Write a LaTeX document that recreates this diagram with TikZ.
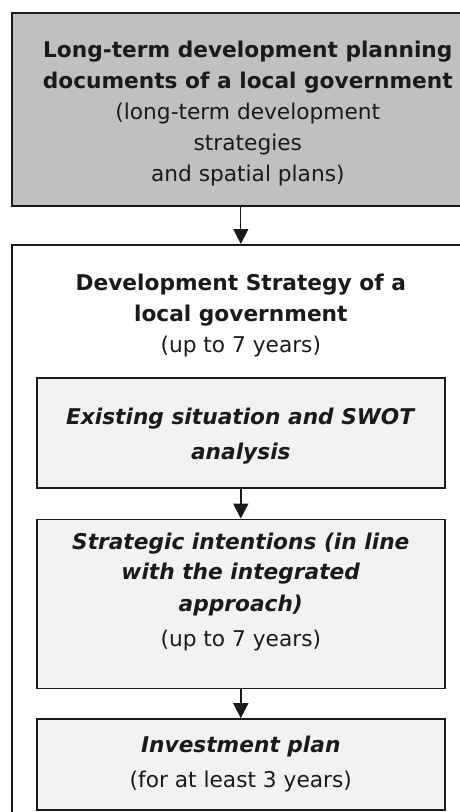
\documentclass[tikz,border=0pt]{standalone}
\usepackage{fontspec}
\setmainfont{DejaVu Sans}
\usetikzlibrary{arrows.meta,positioning}
\definecolor{docgray}{HTML}{C0C0C0}
\definecolor{boxgray}{HTML}{F2F2F2}
\definecolor{ink}{HTML}{1A1A1A}

\begin{document}
\begin{tikzpicture}[
  x=1pt, y=1pt,
  font=\fontsize{21.7}{31}\selectfont, text=ink, >={Triangle[width=15pt,length=15pt]},
  docbox/.style={draw=ink,line width=1.6pt,fill=docgray,align=center,anchor=north west,
                 minimum width=472pt,minimum height=193pt,inner sep=0pt},
  dsbox/.style={draw=ink,line width=1.6pt,fill=white,anchor=north west,
                minimum width=458pt,minimum height=620pt,inner sep=0pt},
  stage/.style={draw=ink,line width=1.6pt,fill=boxgray,align=center,
                minimum width=408pt,inner sep=0pt},
  flow/.style={->,draw=ink,line width=1.6pt}
]
\useasboundingbox (0,0) rectangle (459,-812);
% planning documents on top
\node[docbox] (ltdoc) at (11,-12)
  {\mbox{}\\[-6pt]\textbf{Long-term development planning}\\\textbf{documents of a local government}\\(long-term development\\strategies\\and spatial plans)};
% development strategy frame
\node[dsbox] (ds) at (11,-244) {};
\node[align=center,anchor=north,below=26pt of ds.north] (dstitle)
  {\textbf{Development Strategy of a}\\\textbf{local government}\\(up to 7 years)};
\node[stage,minimum height=110pt,below=133pt of ds.north] (swot)
  {\mbox{}\\[-8pt]\textbf{\textit{Existing situation and SWOT}}\\[4pt]\textbf{\textit{analysis}}};
\node[stage,minimum height=169pt,below=30pt of swot] (intent)
  {\textbf{\textit{Strategic intentions (in line}}\\[-1pt]\textbf{\textit{with the integrated}}\\[1pt]\textbf{\textit{approach)}}\\[4pt](up to 7 years)\\[-3pt]\mbox{}};
\node[stage,minimum height=91pt,below=29pt of intent] (invest)
  {\textbf{\textit{Investment plan}}\\[4pt](for at least 3 years)};
\draw[flow,line width=1.3pt] (ltdoc.south -| ds.north) -- (ds.north);
\draw[flow] (swot) -- (intent);
\draw[flow] (intent) -- (invest);
\end{tikzpicture}
\end{document}
